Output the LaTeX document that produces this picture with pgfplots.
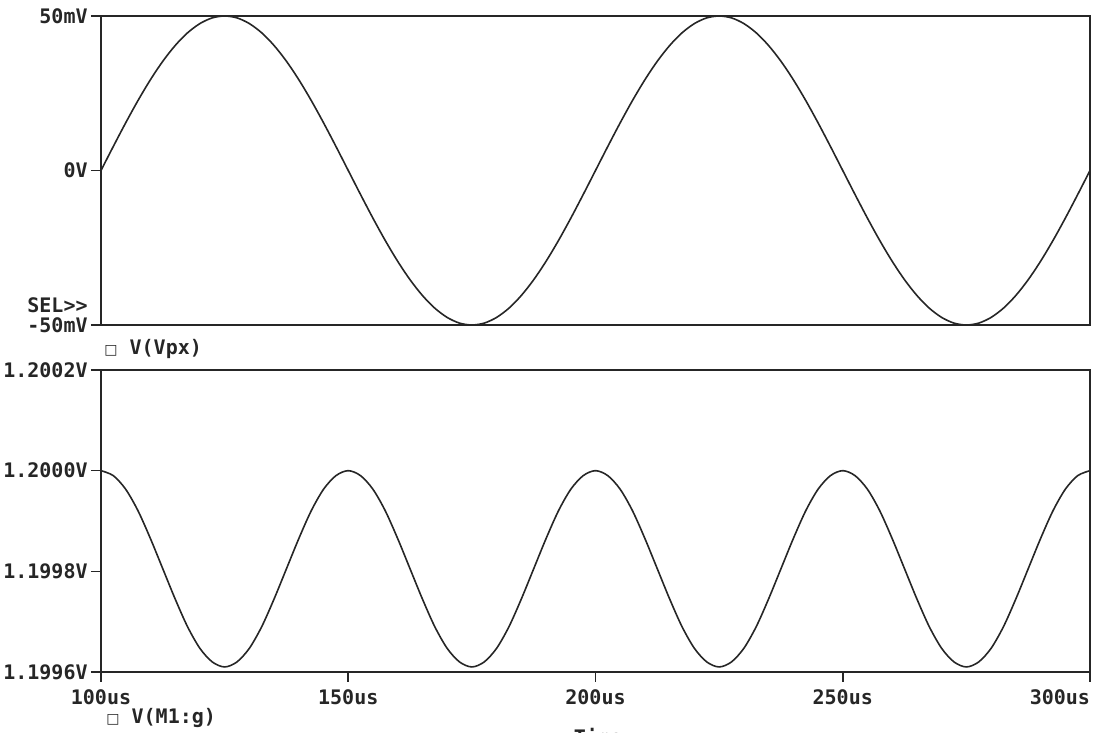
\documentclass[border=0pt]{standalone}
\usepackage{pgfplots}
\pgfplotsset{compat=1.18}
\usepackage{fontspec}
\setmonofont{DejaVu Sans Mono}
\newfontfamily\symfont{DejaVu Sans}
\definecolor{trace}{gray}{0.15}
\begin{document}
\begin{tikzpicture}[x=1pt,y=1pt]
\useasboundingbox (0,0) rectangle (550,366.5);
\pgfplotsset{
  psp/.style={
    scale only axis,
    width=494.5pt,
    xmin=100, xmax=300,
    axis line style={black!85, line width=0.8pt},
    tick style={black!85, line width=0.8pt},
    tick align=outside,
    major tick length=5pt,
    ytick pos=left,
    tick label style={font=\fontsize{10}{12}\selectfont\ttfamily\bfseries, text=black!85},
    yticklabel style={inner sep=1.5pt},
    clip=false,
  }
}
% Top plot: V(Vpx) in mV
\begin{axis}[psp,
  at={(50.5pt,204pt)}, anchor=south west,
  height=154.5pt,
  ymin=-50, ymax=50,
  ytick={-50,0,50},
  yticklabels={-50mV,0V,50mV},
  xtick=\empty,
]
\addplot[trace, line width=0.8pt, smooth, mark=none] coordinates {
(100,0) (102.5,7.82) (105,15.45) (107.5,22.70) (110,29.39) (112.5,35.36) (115,40.45) (117.5,44.55) (120,47.55) (122.5,49.39) (125,50)
(127.5,49.39) (130,47.55) (132.5,44.55) (135,40.45) (137.5,35.36) (140,29.39) (142.5,22.70) (145,15.45) (147.5,7.82) (150,0)
(152.5,-7.82) (155,-15.45) (157.5,-22.70) (160,-29.39) (162.5,-35.36) (165,-40.45) (167.5,-44.55) (170,-47.55) (172.5,-49.39) (175,-50)
(177.5,-49.39) (180,-47.55) (182.5,-44.55) (185,-40.45) (187.5,-35.36) (190,-29.39) (192.5,-22.70) (195,-15.45) (197.5,-7.82) (200,0)
(202.5,7.82) (205,15.45) (207.5,22.70) (210,29.39) (212.5,35.36) (215,40.45) (217.5,44.55) (220,47.55) (222.5,49.39) (225,50)
(227.5,49.39) (230,47.55) (232.5,44.55) (235,40.45) (237.5,35.36) (240,29.39) (242.5,22.70) (245,15.45) (247.5,7.82) (250,0)
(252.5,-7.82) (255,-15.45) (257.5,-22.70) (260,-29.39) (262.5,-35.36) (265,-40.45) (267.5,-44.55) (270,-47.55) (272.5,-49.39) (275,-50)
(277.5,-49.39) (280,-47.55) (282.5,-44.55) (285,-40.45) (287.5,-35.36) (290,-29.39) (292.5,-22.70) (295,-15.45) (297.5,-7.82) (300,0)
};
\node[anchor=south east, inner sep=0pt, font=\fontsize{10}{12}\selectfont\ttfamily\bfseries, text=black!85]
  at ([xshift=-6.5pt,yshift=6pt]rel axis cs:0,0) {SEL>>};
\end{axis}
% Bottom plot: V(M1:g), offset from 1.2 V in microvolts
\begin{axis}[psp,
  at={(50.5pt,30.5pt)}, anchor=south west,
  height=151pt,
  ymin=-400, ymax=200,
  ytick={-400,-200,0,200},
  yticklabels={1.1996V,1.1998V,1.2000V,1.2002V},
  xtick={100,150,200,250,300},
  xticklabels={100us,150us,200us,250us,\makebox[0pt][r]{300us}},
  xtick pos=left,
  xticklabel shift=0.5pt,
]
\addplot[trace, line width=0.8pt, smooth, mark=none] coordinates {
(100,0) (102.5,-10) (105,-37) (107.5,-80) (110,-135) (112.5,-195) (115,-255) (117.5,-310) (120,-353) (122.5,-380) (125,-390)
(127.5,-380) (130,-353) (132.5,-310) (135,-255) (137.5,-195) (140,-135) (142.5,-80) (145,-37) (147.5,-10) (150,0)
(152.5,-10) (155,-37) (157.5,-80) (160,-135) (162.5,-195) (165,-255) (167.5,-310) (170,-353) (172.5,-380) (175,-390)
(177.5,-380) (180,-353) (182.5,-310) (185,-255) (187.5,-195) (190,-135) (192.5,-80) (195,-37) (197.5,-10) (200,0)
(202.5,-10) (205,-37) (207.5,-80) (210,-135) (212.5,-195) (215,-255) (217.5,-310) (220,-353) (222.5,-380) (225,-390)
(227.5,-380) (230,-353) (232.5,-310) (235,-255) (237.5,-195) (240,-135) (242.5,-80) (245,-37) (247.5,-10) (250,0)
(252.5,-10) (255,-37) (257.5,-80) (260,-135) (262.5,-195) (265,-255) (267.5,-310) (270,-353) (272.5,-380) (275,-390)
(277.5,-380) (280,-353) (282.5,-310) (285,-255) (287.5,-195) (290,-135) (292.5,-80) (295,-37) (297.5,-10) (300,0)
};
\end{axis}
% legends and axis title
\node[anchor=west, inner sep=0pt, font=\fontsize{10}{12}\selectfont\ttfamily\bfseries, text=black!85]
  at (52,192) {{\symfont\fontsize{7}{8}\selectfont □}\ V(Vpx)};
\node[anchor=west, inner sep=0pt, font=\fontsize{10}{12}\selectfont\ttfamily\bfseries, text=black!85]
  at (53,7.5) {{\symfont\fontsize{7}{8}\selectfont □}\ V(M1:g)};
\node[anchor=north, inner sep=0pt, font=\fontsize{10}{12}\selectfont\ttfamily\bfseries, text=black!85]
  at (299,2.5) {Time};
\end{tikzpicture}
\end{document}
